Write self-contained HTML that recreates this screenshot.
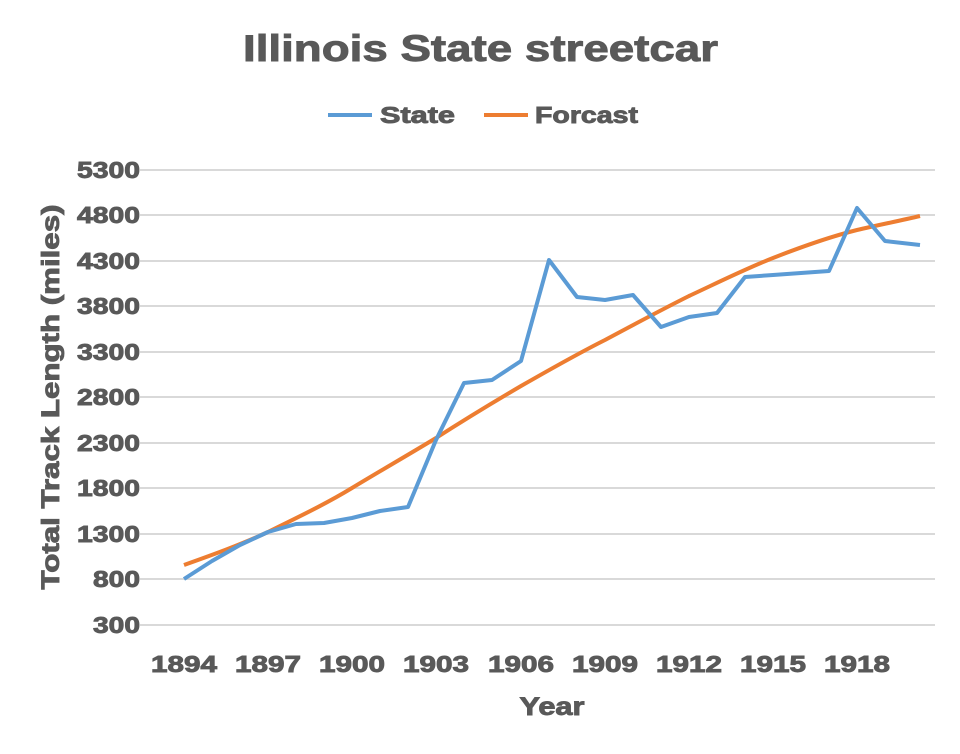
<!DOCTYPE html>
<html><head><meta charset="utf-8"><style>
html,body{margin:0;padding:0;background:#fff;}
svg{display:block;font-family:"Liberation Sans",Arial,sans-serif;font-weight:bold;}
text{stroke:#595959;stroke-width:0.9;}
</style></head><body>
<svg width="960" height="754" viewBox="0 0 960 754" xmlns="http://www.w3.org/2000/svg">
<rect width="960" height="754" fill="#fff"/>
<text x="243" y="61" textLength="475" lengthAdjust="spacingAndGlyphs" font-size="37" fill="#595959">Illinois State streetcar</text>
<line x1="328" y1="115" x2="372" y2="115" stroke="#5b9bd5" stroke-width="4"/>
<text x="380" y="123" textLength="75" lengthAdjust="spacingAndGlyphs" font-size="23" fill="#595959">State</text>
<line x1="484" y1="115" x2="528" y2="115" stroke="#ed7d31" stroke-width="4"/>
<text x="535" y="123" textLength="103" lengthAdjust="spacingAndGlyphs" font-size="23" fill="#595959">Forcast</text>
<g stroke="#d9d9d9" stroke-width="2">
<line x1="140" x2="935" y1="170" y2="170"/><line x1="140" x2="935" y1="215" y2="215"/>
<line x1="140" x2="935" y1="261" y2="261"/><line x1="140" x2="935" y1="306" y2="306"/>
<line x1="140" x2="935" y1="352" y2="352"/><line x1="140" x2="935" y1="397" y2="397"/>
<line x1="140" x2="935" y1="443" y2="443"/><line x1="140" x2="935" y1="488" y2="488"/>
<line x1="140" x2="935" y1="534" y2="534"/><line x1="140" x2="935" y1="579" y2="579"/>
<line x1="140" x2="935" y1="625" y2="625"/>
</g>
<g font-size="23" fill="#595959" text-anchor="end">
<text x="140" y="178" textLength="63" lengthAdjust="spacingAndGlyphs">5300</text>
<text x="140" y="223" textLength="63" lengthAdjust="spacingAndGlyphs">4800</text>
<text x="140" y="269" textLength="63" lengthAdjust="spacingAndGlyphs">4300</text>
<text x="140" y="314" textLength="63" lengthAdjust="spacingAndGlyphs">3800</text>
<text x="140" y="360" textLength="63" lengthAdjust="spacingAndGlyphs">3300</text>
<text x="140" y="405" textLength="63" lengthAdjust="spacingAndGlyphs">2800</text>
<text x="140" y="451" textLength="63" lengthAdjust="spacingAndGlyphs">2300</text>
<text x="140" y="496" textLength="63" lengthAdjust="spacingAndGlyphs">1800</text>
<text x="140" y="542" textLength="63" lengthAdjust="spacingAndGlyphs">1300</text>
<text x="140" y="587" textLength="47" lengthAdjust="spacingAndGlyphs">800</text>
<text x="140" y="633" textLength="47" lengthAdjust="spacingAndGlyphs">300</text>
</g>
<g font-size="23" fill="#595959" text-anchor="middle">
<text x="184" y="672" textLength="66" lengthAdjust="spacingAndGlyphs">1894</text>
<text x="268" y="672" textLength="66" lengthAdjust="spacingAndGlyphs">1897</text>
<text x="352" y="672" textLength="66" lengthAdjust="spacingAndGlyphs">1900</text>
<text x="436" y="672" textLength="66" lengthAdjust="spacingAndGlyphs">1903</text>
<text x="521" y="672" textLength="66" lengthAdjust="spacingAndGlyphs">1906</text>
<text x="605" y="672" textLength="66" lengthAdjust="spacingAndGlyphs">1909</text>
<text x="689" y="672" textLength="66" lengthAdjust="spacingAndGlyphs">1912</text>
<text x="773" y="672" textLength="66" lengthAdjust="spacingAndGlyphs">1915</text>
<text x="857" y="672" textLength="66" lengthAdjust="spacingAndGlyphs">1918</text>
</g>
<text x="552" y="715" text-anchor="middle" textLength="65" lengthAdjust="spacingAndGlyphs" font-size="25" fill="#595959">Year</text>
<text transform="translate(59,397) rotate(-90)" text-anchor="middle" textLength="385" lengthAdjust="spacingAndGlyphs" font-size="25" fill="#595959">Total Track Length (miles)</text>
<path d="M184,565 C212,555 240,545 268,532 C296,518 324,505 352,488 C380,471 408,455 436,438 C464,420 492,403 521,386 C549,370 577,354 605,340 C633,325 661,310 689,296 C717,283 745,269 773,258 C801,247 829,237 857,230 C878,225 899,221 920,216" fill="none" stroke="#ed7d31" stroke-width="4"/>
<polyline fill="none" stroke="#5b9bd5" stroke-width="4" stroke-linejoin="round" points="184,579 212,561 240,545 268,532 296,524 324,523 352,518 380,511 408,507 436,440 464,383 492,380 521,361 549,260 577,297 605,300 633,295 661,327 689,317 717,313 745,277 773,275 801,273 829,271 857,208 885,241 920,245"/>
</svg>
</body></html>
